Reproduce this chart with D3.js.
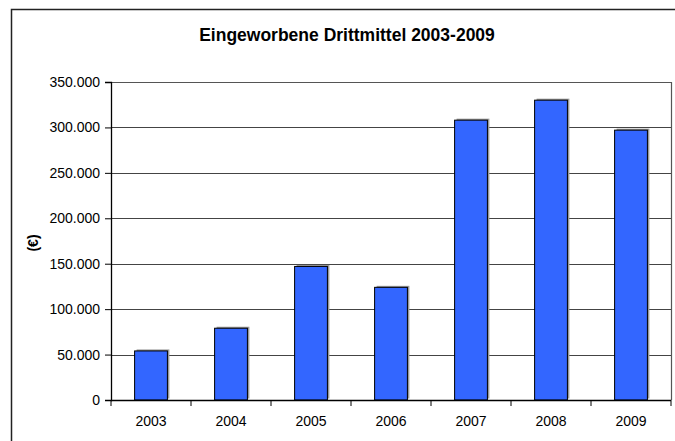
<!DOCTYPE html>
<html>
<head>
<meta charset="utf-8">
<script src="https://cdn.jsdelivr.net/npm/d3@7"></script>
<style>
    body { margin: 0; background: #fff; }
    svg { display: block; font-family: "Liberation Sans", Arial, sans-serif; }
</style>
</head>
<body>
<div id="chart"></div>
<script>
// DATA
var years = ['2003', '2004', '2005', '2006', '2007', '2008', '2009'];
var amounts = [54000, 79000, 147000, 124000, 308000, 330000, 297000];
var yTicks = [0, 50000, 100000, 150000, 200000, 250000, 300000, 350000];

var chartTitle = 'Eingeworbene Drittmittel 2003-2009',
    yLabel = '(€)';

var svg = d3.select('#chart')
    .append('svg')
    .attr('width', 675)
    .attr('height', 441);

// clipped heading above the chart box (only the descender shows)
svg.append('text')
    .attr('x', 121)
    .attr('y', -4)
    .attr('text-anchor', 'middle')
    .style('font-size', '21px')
    .style('font-weight', 'bold')
    .text('g');

// outer chart box
svg.append('path')
    .attr('d', 'M11.5,441 V9.5 H675')
    .attr('fill', 'none')
    .attr('stroke', '#222')
    .attr('stroke-width', 1.5);

svg.append('text')
    .attr('x', 347)
    .attr('y', 41)
    .attr('text-anchor', 'middle')
    .style('font-size', '17.5px')
    .style('font-weight', 'bold')
    .text(chartTitle);

var xScale = d3.scaleBand()
    .domain(years)
    .range([111, 671])
    .paddingInner(0.59)
    .paddingOuter(0.295);

var yScale = d3.scaleLinear()
    .domain([0, 350000])
    .range([400, 82]);

var fmt = d3.formatLocale({decimal: ',', thousands: '.', grouping: [3], currency: ['', '€']}).format(',d');

var chart = svg.append('g').classed('chart', true);

// plot area border (top + right)
chart.append('path')
    .attr('d', 'M111,' + (yScale(350000) + 0.5) + ' H671.5 V400')
    .attr('fill', 'none')
    .attr('stroke', '#555')
    .attr('stroke-width', 1.2);

// gridlines
chart.selectAll('line.grid')
    .data(yTicks.filter(d => d > 0 && d < 350000))
    .enter()
    .append('line')
    .attr('class', 'grid')
    .attr('x1', 111)
    .attr('x2', 671)
    .attr('y1', d => Math.round(yScale(d)) + 0.5)
    .attr('y2', d => Math.round(yScale(d)) + 0.5)
    .attr('stroke', '#444')
    .attr('stroke-width', 1);

// bar shadows
chart.selectAll('rect.shadow')
    .data(amounts)
    .enter()
    .append('rect')
    .attr('class', 'shadow')
    .attr('x', (d, i) => xScale(years[i]) + 2)
    .attr('y', d => yScale(d) - 1.5)
    .attr('width', xScale.bandwidth())
    .attr('height', d => 400 - yScale(d))
    .attr('fill', '#999');

// bars
chart.selectAll('rect.bar')
    .data(amounts)
    .enter()
    .append('rect')
    .attr('class', 'bar')
    .attr('x', (d, i) => xScale(years[i]))
    .attr('y', d => yScale(d))
    .attr('width', xScale.bandwidth())
    .attr('height', d => 400 - yScale(d))
    .attr('fill', '#3366FF')
    .attr('stroke', '#000')
    .attr('stroke-width', 1);

// axes
var yAxis = chart.append('g')
    .attr('transform', 'translate(111,0)')
    .call(d3.axisLeft(yScale).tickValues(yTicks).tickFormat(fmt).tickSize(6).tickPadding(5));

var xAxis = chart.append('g')
    .attr('transform', 'translate(0,400)')
    .call(d3.axisBottom(xScale).tickSize(0).tickPadding(16));

// category boundary ticks
chart.selectAll('line.xtick')
    .data(years.concat(['end']))
    .enter()
    .append('line')
    .attr('class', 'xtick')
    .attr('x1', (d, i) => 111 + i * xScale.step())
    .attr('x2', (d, i) => 111 + i * xScale.step())
    .attr('y1', 400)
    .attr('y2', 406)
    .attr('stroke', '#000');

[yAxis, xAxis].forEach(function (a) {
    a.select('.domain').attr('stroke', '#000').attr('stroke-width', 1.3);
    a.selectAll('text')
        .style('font-size', '14px')
        .style('font-family', '"Liberation Sans", Arial, sans-serif')
        .attr('fill', '#000');
});
xAxis.select('.domain').attr('d', 'M111,0.5H671');

chart.append('text')
    .attr('transform', 'translate(38,243)rotate(-90)')
    .attr('text-anchor', 'middle')
    .style('font-size', '14px')
    .style('font-weight', 'bold')
    .text(yLabel);
</script>
</body>
</html>
